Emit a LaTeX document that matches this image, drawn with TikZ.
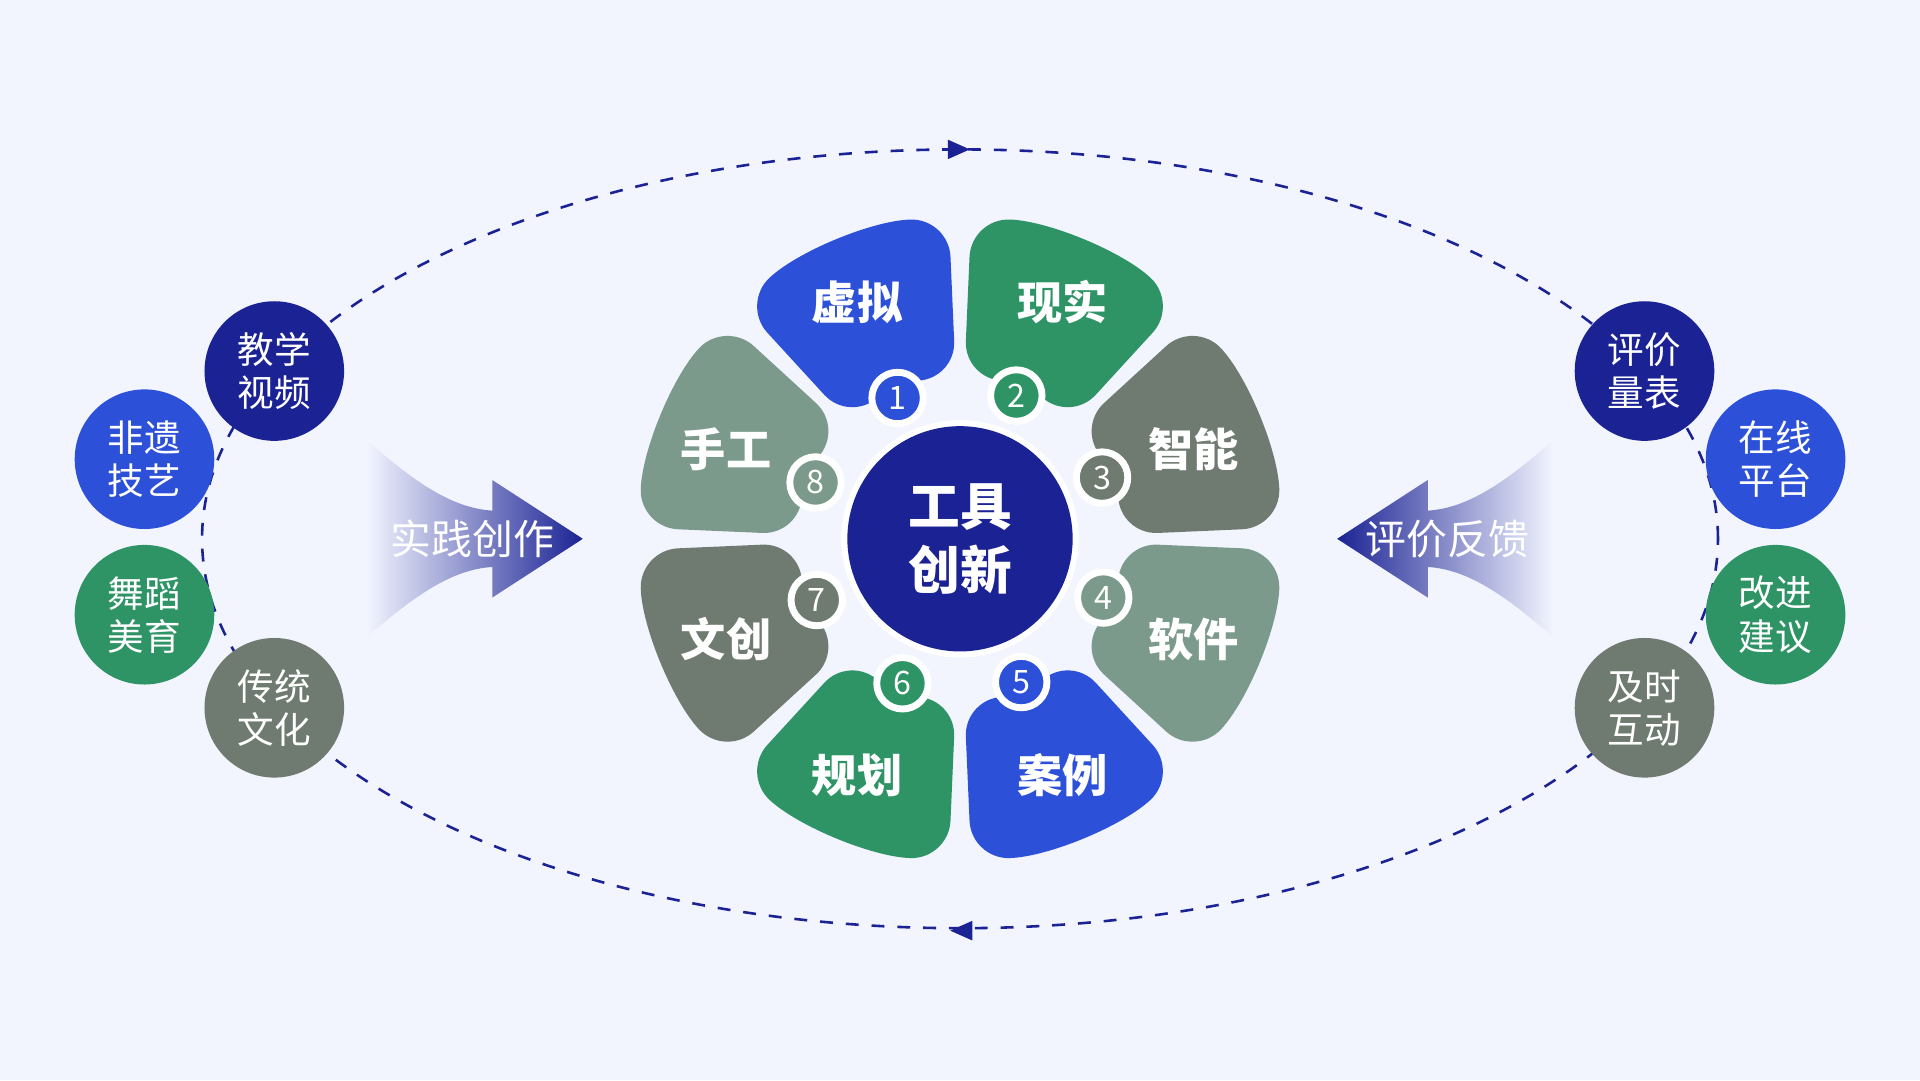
\documentclass[tikz,border=0pt]{standalone}
\usepackage{fontspec}
\setmainfont{Noto Sans CJK SC}
\usetikzlibrary{positioning}
\usetikzlibrary{arrows.meta}
\definecolor{bgc}{HTML}{F2F4FE}
\definecolor{navy}{HTML}{1B2394}
\definecolor{blu}{HTML}{2C50D8}
\definecolor{grn}{HTML}{2E9466}
\definecolor{gry}{HTML}{6F7B70}
\definecolor{ggr}{HTML}{7B9A8C}

\begin{document}
\begin{tikzpicture}
\tikzstyle{petalText} = [text=white, font=\fontsize{10.5}{12}\selectfont\bfseries]
\tikzstyle{numStyle} = [shape = circle, minimum size = 0.42cm, inner sep = 0pt, draw=white, line width=1.6pt, text=white, font=\fontsize{7.5}{8}\selectfont]
\tikzstyle{sideStyle} = [shape = circle, minimum size = 1.14cm, inner sep = 0pt, text=white, align=center, font=\fontsize{8.5}{10}\selectfont]
\tikzstyle{loopStyle} = [navy, dashed, line width=0.6pt]
\fill[bgc] (0,0) rectangle (15.68,-8.82);
\useasboundingbox (0,0) rectangle (15.68,-8.82);
% dashed loop
\draw[loopStyle] (7.84,-4.40) ellipse (6.19 and 3.18);
\fill[navy] (7.92,-1.22) -- (7.74,-1.14) -- (7.74,-1.30) -- cycle;
\fill[navy] (7.76,-7.60) -- (7.94,-7.52) -- (7.94,-7.68) -- cycle;
% petals
\begin{scope}[shift={(7.84,-4.40)}]
\foreach \ang/\col in {112.5/blu, 67.5/grn, 22.5/gry, -22.5/ggr, -67.5/blu, -112.5/grn, -157.5/gry, 157.5/ggr}{
  \fill[\col, rounded corners=9pt] (\ang-21:1.30) arc (\ang-21:\ang+21:1.30) -- (\ang+20.5:2.62) arc (\ang+20.5:\ang-20.5:2.62) -- cycle;
}
\fill[white] (0,0) circle (0.97);
\end{scope}
\node[shape=circle, fill=navy, minimum size=1.84cm, inner sep=0pt, text=white, align=center, font=\fontsize{12}{15}\selectfont\bfseries] (core) at (7.84,-4.40) {工具\\创新};
\node[petalText] (p1) at (7.00,-2.47) {虚拟};
\node[petalText] (p2) at (8.68,-2.47) {现实};
\node[petalText] (p3) at (9.75,-3.67) {智能};
\node[petalText] (p4) at (9.75,-5.22) {软件};
\node[petalText] (p5) at (8.68,-6.33) {案例};
\node[petalText] (p6) at (7.00,-6.33) {规划};
\node[petalText] (p7) at (5.93,-5.22) {文创};
\node[petalText] (p8) at (5.93,-3.67) {手工};
\node[numStyle, fill=blu] (n1) at (7.33,-3.25) {1};
\node[numStyle, fill=grn] (n2) at (8.30,-3.23) {2};
\node[numStyle, fill=gry] (n3) at (9.00,-3.90) {3};
\node[numStyle, fill=ggr] (n4) at (9.01,-4.88) {4};
\node[numStyle, fill=blu] (n5) at (8.34,-5.57) {5};
\node[numStyle, fill=grn] (n6) at (7.37,-5.58) {6};
\node[numStyle, fill=gry] (n7) at (6.67,-4.90) {7};
\node[numStyle, fill=ggr] (n8) at (6.66,-3.94) {8};
% side circles
\node[sideStyle, fill=navy] (s1) at (2.24,-3.03) {教学\\视频};
\node[sideStyle, fill=blu] (s2) at (1.18,-3.75) {非遗\\技艺};
\node[sideStyle, fill=grn] (s3) at (1.18,-5.02) {舞蹈\\美育};
\node[sideStyle, fill=gry] (s4) at (2.24,-5.78) {传统\\文化};
\node[sideStyle, fill=navy] (r1) at (13.43,-3.03) {评价\\量表};
\node[sideStyle, fill=blu] (r2) at (14.50,-3.75) {在线\\平台};
\node[sideStyle, fill=grn] (r3) at (14.50,-5.02) {改进\\建议};
\node[sideStyle, fill=gry] (r4) at (13.43,-5.78) {及时\\互动};
% big arrows
\shade[left color=bgc, right color=navy] (3.00,-3.60) .. controls (3.40,-3.95) and (3.70,-4.15) .. (4.02,-4.17) -- (4.02,-3.92) -- (4.76,-4.40) -- (4.02,-4.88) -- (4.02,-4.63) .. controls (3.70,-4.65) and (3.40,-4.85) .. (3.00,-5.20) -- cycle;
\shade[right color=bgc, left color=navy] (12.68,-3.60) .. controls (12.28,-3.95) and (11.98,-4.15) .. (11.66,-4.17) -- (11.66,-3.92) -- (10.92,-4.40) -- (11.66,-4.88) -- (11.66,-4.63) .. controls (11.98,-4.65) and (12.28,-4.85) .. (12.68,-5.20) -- cycle;
\node[text=white, font=\fontsize{9.5}{11}\selectfont] (la) at (3.86,-4.40) {实践创作};
\node[text=white, font=\fontsize{9.5}{11}\selectfont] (lb) at (11.82,-4.40) {评价反馈};
\end{tikzpicture}
\end{document}
